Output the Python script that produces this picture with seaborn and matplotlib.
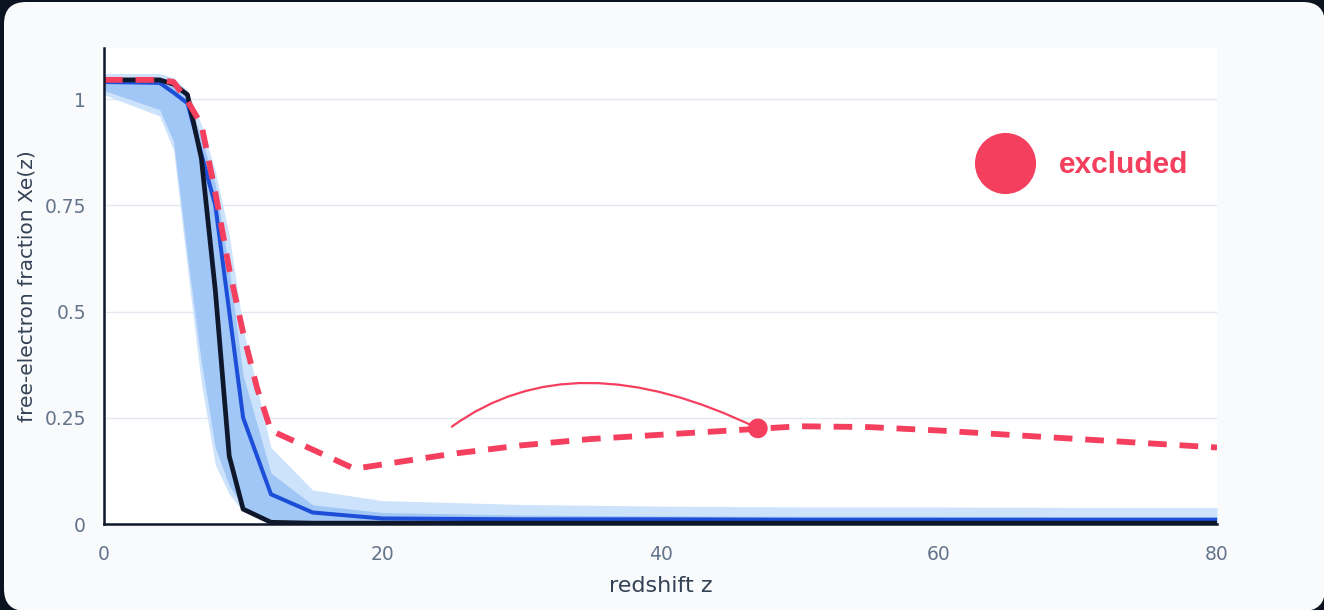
import numpy as np
import pandas as pd
import matplotlib
matplotlib.use("Agg")
import matplotlib.pyplot as plt
from matplotlib.patches import FancyBboxPatch
from matplotlib.lines import Line2D
import seaborn as sns

# ---- data -------------------------------------------------------------
z = [0, 4, 5, 6, 7, 8, 9, 10, 12, 15, 20, 30, 40, 50, 60, 70, 80]

# ionisation history: median and model curves
xe_median = [1.04, 1.038, 1.015, 0.99, 0.87, 0.75, 0.50, 0.25, 0.07, 0.027,
             0.013, 0.011, 0.011, 0.010, 0.010, 0.010, 0.010]
xe_fiducial = [1.045, 1.045, 1.035, 1.01, 0.86, 0.55, 0.16, 0.035, 0.004, 0.002,
               0.002, 0.002, 0.002, 0.002, 0.002, 0.002, 0.002]

# credible bands (68% inner, 95% outer)
inner_lo = [1.02, 0.975, 0.90, 0.63, 0.38, 0.18, 0.09, 0.04, 0.007, 0.003,
            0.002, 0.002, 0.002, 0.002, 0.002, 0.002, 0.002]
inner_hi = [1.05, 1.05, 1.03, 1.00, 0.91, 0.80, 0.60, 0.35, 0.12, 0.045,
            0.027, 0.021, 0.019, 0.018, 0.018, 0.017, 0.017]
outer_lo = [1.01, 0.96, 0.88, 0.60, 0.33, 0.14, 0.07, 0.03, 0.004, 0.0,
            0.0, 0.0, 0.0, 0.0, 0.0, 0.0, 0.0]
outer_hi = [1.06, 1.06, 1.05, 1.02, 0.94, 0.83, 0.68, 0.46, 0.18, 0.08,
            0.055, 0.046, 0.042, 0.040, 0.040, 0.039, 0.039]

# excluded model with an extended high-z ionisation tail
z_excl = [0, 4, 5, 6, 7, 8, 9, 10, 11, 12, 18, 20, 25, 30, 35, 40, 45, 50,
          55, 60, 70, 80]
xe_excl = [1.045, 1.045, 1.04, 0.995, 0.94, 0.78, 0.60, 0.45, 0.32, 0.22,
           0.13, 0.14, 0.165, 0.185, 0.20, 0.21, 0.22, 0.23, 0.228, 0.22,
           0.20, 0.18]

excl_point_z = [47]
excl_point_xe = [0.225]
callout_start = (25, 0.229)

yticks = [0, 0.25, 0.5, 0.75, 1]
ytick_labels = ["0", "0.25", "0.5", "0.75", "1"]
xticks = [0, 20, 40, 60, 80]
xtick_labels = ["0", "20", "40", "60", "80"]

# ---- colours ------------------------------------------------------------
RED = "#f43f5e"
BLUE = "#1d4ed8"
INK = "#0f172a"
BAND_OUT = "#cde2fb"
BAND_IN = "#a1c7f6"
TICK = "#64748b"
LABEL = "#334155"
GRID = "#e2e8f0"

sns.set_theme(style="white")
plt.rcParams["font.family"] = ["DejaVu Sans"]

W, H = 1324, 610
fig = plt.figure(figsize=(W / 100, H / 100), dpi=100)
fig.patch.set_facecolor("#0b1220")
card = FancyBboxPatch((0.04, -0.01), 13.21, 6.09,
                      boxstyle="round,pad=0,rounding_size=0.22",
                      transform=fig.dpi_scale_trans, facecolor="#f8fafc",
                      edgecolor="none", zorder=-10)
fig.add_artist(card)

ax = fig.add_axes([104 / W, (H - 524) / H, 1113 / W, 476 / H])
ax.set_facecolor("white")

df = pd.DataFrame({"z": z, "median": xe_median, "fiducial": xe_fiducial})
dfx = pd.DataFrame({"z": z_excl, "xe": xe_excl})

ax.fill_between(z, outer_lo, outer_hi, color=BAND_OUT, lw=0, zorder=1)
ax.fill_between(z, inner_lo, inner_hi, color=BAND_IN, lw=0, zorder=1.5)

sns.lineplot(data=df, x="z", y="median", color=BLUE, lw=2.9, ax=ax, zorder=3)
sns.lineplot(data=df, x="z", y="fiducial", color=INK, lw=3.4, ax=ax, zorder=4)
sns.lineplot(data=dfx, x="z", y="xe", color=RED, lw=4.2, ax=ax, zorder=5)
ax.lines[-1].set_linestyle((0, (3.2, 2.2)))
ax.lines[-1].set_dash_capstyle("butt")

# callout to the excluded point
ax.annotate("", xy=(excl_point_z[0], excl_point_xe[0]), xytext=callout_start,
            arrowprops=dict(arrowstyle="-", color=RED, lw=1.6,
                            connectionstyle="angle3,angleA=36,angleB=-26",
                            shrinkA=0, shrinkB=0), zorder=6)
sns.scatterplot(x=excl_point_z, y=excl_point_xe, color=RED, s=200,
                edgecolor="none", ax=ax, zorder=7)

handle = Line2D([], [], marker="o", ls="none", color=RED, markersize=44,
                markeredgewidth=0)
ax.legend([handle], ["excluded"], loc="center left",
          bbox_to_anchor=(0.7826, 0.754), frameon=False, borderpad=0,
          borderaxespad=0, handlelength=2.0, handletextpad=0.8,
          labelcolor=RED,
          prop={"family": "Liberation Sans", "weight": "bold", "size": 21.5})

ax.set_xlim(0, 80)
ax.set_ylim(0, 1.12)
ax.set_yticks(yticks, ytick_labels)
ax.set_xticks(xticks, xtick_labels)
ax.grid(axis="y", color=GRID, lw=1)
ax.grid(axis="x", visible=False)
ax.set_axisbelow(True)

for side in ("top", "right"):
    ax.spines[side].set_visible(False)
for side in ("left", "bottom"):
    ax.spines[side].set_color(INK)
    ax.spines[side].set_linewidth(1.8)
    ax.spines[side].set_zorder(8)

ax.tick_params(axis="y", length=0, pad=13, labelsize=13.5, labelcolor=TICK)
ax.tick_params(axis="x", length=5, width=1, color="#94a3b8", pad=10,
               labelsize=13.5, labelcolor=TICK, direction="out")

ax.set_xlabel("redshift z", fontsize=16, color=LABEL, labelpad=9)
ax.set_ylabel("free-electron fraction Xe(z)", fontsize=14.5, color=LABEL,
              labelpad=6)

fig.savefig("out.png", dpi=100, facecolor=fig.get_facecolor())
